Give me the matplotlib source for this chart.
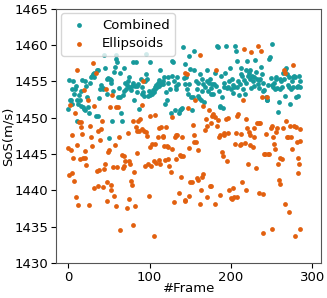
import matplotlib
matplotlib.use("Agg")
import matplotlib.pyplot as plt

# Combined series (frame, SoS)
comb_frames = [0,1,2,3,4,5,6,7,8,9,10,11,12,13,14,15,16,17,18,19,20,21,22,23,24,25,26,28,29,30,31,32,34,35,36,37,38,39,40,42,43,44,45,47,48,49,50,51,52,53,54,55,56,57,58,59,60,61,62,63,64,65,66,67,68,69,70,71,72,73,74,75,77,78,79,80,81,82,83,84,85,86,87,89,90,91,92,93,94,95,96,97,98,99,100,101,102,103,104,105,106,107,108,109,110,111,112,113,114,115,116,117,118,119,120,121,122,123,125,126,127,128,129,130,131,132,133,134,135,136,137,139,140,141,142,143,144,145,146,147,148,149,150,151,152,153,154,155,157,158,159,160,161,162,163,164,165,166,167,168,170,171,172,173,174,175,176,177,178,179,180,182,183,184,185,186,187,188,189,190,191,192,193,194,195,196,198,199,200,201,202,203,204,205,206,207,208,209,210,211,212,213,214,215,216,217,218,219,220,221,222,223,224,225,226,227,228,229,230,231,232,233,234,235,236,237,238,239,240,241,243,244,245,246,247,248,249,250,251,252,253,254,255,256,257,258,259,260,261,262,263,264,265,266,267,268,269,270,271,272,273,274,275,276,277,278,279,280,281,282,283,284,285,285]
comb_sos = [1451.2,1455.2,1452.4,1452.5,1451.9,1453.9,1455.0,1453.3,1453.9,1454.4,1449.5,1452.5,1451.9,1453.1,1452.5,1453.7,1451.6,1455.2,1451.5,1451.2,1455.1,1451.0,1454.4,1452.8,1451.5,1450.7,1454.8,1455.6,1455.7,1456.0,1455.6,1456.2,1450.2,1456.6,1456.5,1450.2,1452.7,1453.9,1454.5,1453.9,1454.1,1458.6,1456.8,1453.2,1455.3,1455.4,1447.2,1455.3,1454.8,1455.2,1449.6,1453.7,1456.3,1457.0,1458.1,1458.6,1457.6,1452.8,1454.1,1452.8,1456.1,1450.6,1449.5,1453.1,1453.7,1456.8,1454.8,1453.9,1454.5,1455.1,1455.6,1454.2,1453.8,1454.4,1457.7,1454.8,1452.4,1454.3,1457.7,1453.5,1454.4,1454.7,1451.2,1455.3,1454.2,1453.3,1453.5,1453.0,1455.0,1458.8,1456.0,1455.3,1453.0,1453.7,1453.1,1457.7,1453.4,1453.3,1453.8,1453.6,1453.9,1454.2,1454.5,1454.2,1454.8,1455.2,1454.4,1456.5,1454.7,1454.8,1455.0,1454.7,1455.6,1451.9,1453.6,1452.5,1454.8,1455.6,1453.9,1450.6,1455.7,1457.8,1457.7,1455.0,1451.0,1454.4,1453.9,1455.6,1454.7,1450.6,1451.1,1451.2,1451.4,1459.7,1455.4,1454.6,1457.4,1455.6,1453.9,1453.3,1454.7,1458.5,1456.7,1452.9,1451.0,1452.9,1456.5,1459.2,1455.0,1453.9,1453.0,1454.8,1452.7,1456.0,1452.4,1455.3,1453.7,1454.6,1452.2,1454.2,1455.0,1456.5,1453.7,1454.8,1455.3,1454.1,1453.3,1454.7,1453.3,1454.7,1456.2,1454.4,1459.9,1459.7,1453.7,1451.6,1451.5,1455.7,1452.8,1451.4,1454.2,1454.8,1456.2,1459.8,1454.1,1454.2,1455.1,1456.9,1453.9,1455.3,1453.4,1454.5,1454.2,1459.8,1459.2,1457.8,1454.2,1455.0,1453.1,1454.7,1456.9,1456.0,1455.7,1453.9,1455.2,1453.3,1454.8,1456.6,1457.8,1455.7,1456.2,1455.3,1456.6,1454.1,1455.7,1455.1,1454.3,1455.6,1457.9,1456.3,1455.3,1454.7,1455.2,1454.1,1455.3,1457.0,1456.0,1453.7,1454.8,1453.8,1452.8,1452.5,1452.4,1454.5,1458.1,1458.3,1455.4,1460.2,1454.5,1454.2,1454.8,1453.9,1455.6,1455.3,1454.1,1450.8,1452.1,1453.9,1455.3,1455.0,1454.2,1456.2,1455.3,1456.5,1453.0,1456.9,1456.0,1454.5,1454.2,1455.6,1451.9,1453.9,1455.1,1455.6,1454.2,1455.7,1455.6,1452.8,1454.2,1454.4,1453.0,1455.7,1454.2,1455.0]

# Ellipsoids series (frame, SoS)
ell_frames = [0,1,2,3,4,5,6,7,8,9,10,11,12,13,14,15,16,17,18,19,20,21,22,24,25,26,28,29,30,31,32,34,35,36,37,38,39,40,41,43,44,45,46,47,48,49,50,51,52,53,54,55,56,57,58,59,60,61,62,64,66,67,68,69,70,72,73,74,75,76,77,78,79,80,81,82,83,84,85,86,87,88,90,91,92,93,94,95,97,98,99,100,101,102,103,105,105,106,107,108,110,111,112,113,114,116,117,118,119,120,121,122,123,124,126,127,128,130,131,132,133,134,136,137,138,139,140,141,143,144,144,146,147,148,149,150,152,153,154,155,156,157,158,160,160,162,162,163,164,166,166,168,169,170,171,173,174,175,176,177,178,180,181,182,183,184,185,187,187,189,190,191,192,194,195,196,197,198,200,201,203,204,205,206,207,208,209,211,212,213,214,215,216,217,218,219,220,221,222,223,224,225,227,228,229,231,232,233,234,235,236,237,238,239,240,241,242,243,245,246,247,249,250,251,252,253,254,256,257,258,259,260,261,263,264,265,266,267,268,269,270,272,273,274,275,276,278,279,280,281,282,283,284,285,285,285]
ell_sos = [1445.8,1442.1,1451.8,1445.5,1447.6,1442.4,1444.4,1441.3,1450.7,1439.1,1456.6,1446.3,1438.0,1449.4,1444.3,1449.4,1448.7,1447.8,1444.4,1453.8,1444.4,1445.4,1443.5,1452.4,1438.0,1448.8,1447.4,1446.1,1457.5,1451.6,1440.3,1456.1,1442.7,1440.6,1448.2,1442.8,1446.9,1448.5,1449.6,1440.5,1442.9,1443.6,1453.9,1441.1,1438.5,1445.3,1445.5,1451.5,1440.8,1440.1,1453.1,1443.2,1439.2,1446.2,1437.8,1451.5,1443.2,1451.5,1447.3,1434.6,1444.9,1443.1,1444.8,1443.3,1444.0,1437.6,1447.9,1438.8,1444.0,1443.7,1441.3,1440.8,1435.3,1449.6,1442.6,1437.9,1448.7,1445.1,1448.2,1449.6,1448.2,1449.8,1451.8,1448.4,1455.0,1448.2,1443.3,1448.0,1447.5,1443.7,1439.2,1450.2,1446.0,1443.4,1446.4,1444.0,1433.8,1450.4,1446.4,1443.8,1447.3,1444.2,1448.6,1443.7,1448.7,1447.3,1447.5,1446.1,1444.2,1448.7,1446.1,1446.0,1444.3,1443.3,1442.6,1445.7,1450.1,1438.4,1447.4,1444.3,1447.6,1447.6,1439.6,1444.9,1444.8,1441.9,1447.4,1444.7,1438.6,1456.2,1438.7,1456.0,1451.4,1439.3,1445.8,1441.1,1441.2,1449.0,1446.7,1447.6,1452.4,1446.7,1441.7,1445.6,1441.5,1458.6,1438.2,1440.0,1441.9,1442.3,1451.6,1448.3,1449.8,1439.1,1448.9,1451.1,1440.6,1440.6,1449.3,1450.3,1450.5,1450.1,1438.2,1456.5,1448.8,1449.7,1447.3,1447.6,1439.4,1445.3,1444.7,1447.6,1447.9,1449.8,1444.0,1447.9,1449.9,1440.1,1439.0,1438.8,1440.4,1439.1,1446.4,1447.9,1439.1,1450.2,1450.5,1446.3,1446.4,1447.7,1441.1,1452.5,1459.4,1446.5,1449.8,1440.0,1448.6,1443.7,1448.0,1446.3,1447.6,1459.1,1446.0,1447.4,1448.6,1443.1,1449.3,1459.9,1449.3,1439.7,1449.3,1459.2,1452.9,1434.1,1439.5,1445.0,1445.0,1447.7,1452.9,1445.0,1445.0,1448.6,1448.8,1434.7,1447.3,1446.4,1445.7,1448.1,1448.6,1443.7,1441.5,1440.9,1444.4,1444.3,1448.6,1456.6,1456.2,1438.2,1449.6,1447.4,1447.3,1437.1,1448.9,1447.3,1445.7,1457.3,1448.8,1433.7,1448.7,1446.7,1442.4,1444.5,1443.7,1434.7,1446.8,1448.5]

series_labels = ["Combined", "Ellipsoids"]
x_ticks = [0, 100, 200, 300]
y_ticks = [1430, 1435, 1440, 1445, 1450, 1455, 1460, 1465]

fs = 9.5
fig = plt.figure(figsize=(3.27, 2.98), dpi=100)
ax = fig.add_axes([0.172, 0.117, 0.81, 0.854])
ax.scatter(comb_frames, comb_sos, s=12, color="#17999b", label=series_labels[0], linewidths=0)
ax.scatter(ell_frames, ell_sos, s=12, color="#e2600f", label=series_labels[1], linewidths=0)
ax.set_xlim(-15, 311)
ax.set_ylim(1430, 1465)
ax.set_xticks(x_ticks)
ax.set_yticks(y_ticks)
ax.tick_params(labelsize=fs, length=3.5, pad=2)
ax.set_xlabel("#Frame", fontsize=fs, labelpad=-1)
ax.set_ylabel("SoS(m/s)", fontsize=fs, labelpad=0)
for sp in ax.spines.values():
    sp.set_color("#555555")
ax.legend(loc="upper left", fontsize=fs, markerscale=1.0, borderpad=0.4,
          handletextpad=0.7, borderaxespad=0.35, labelspacing=0.45)
fig.savefig("out.png", dpi=100)
